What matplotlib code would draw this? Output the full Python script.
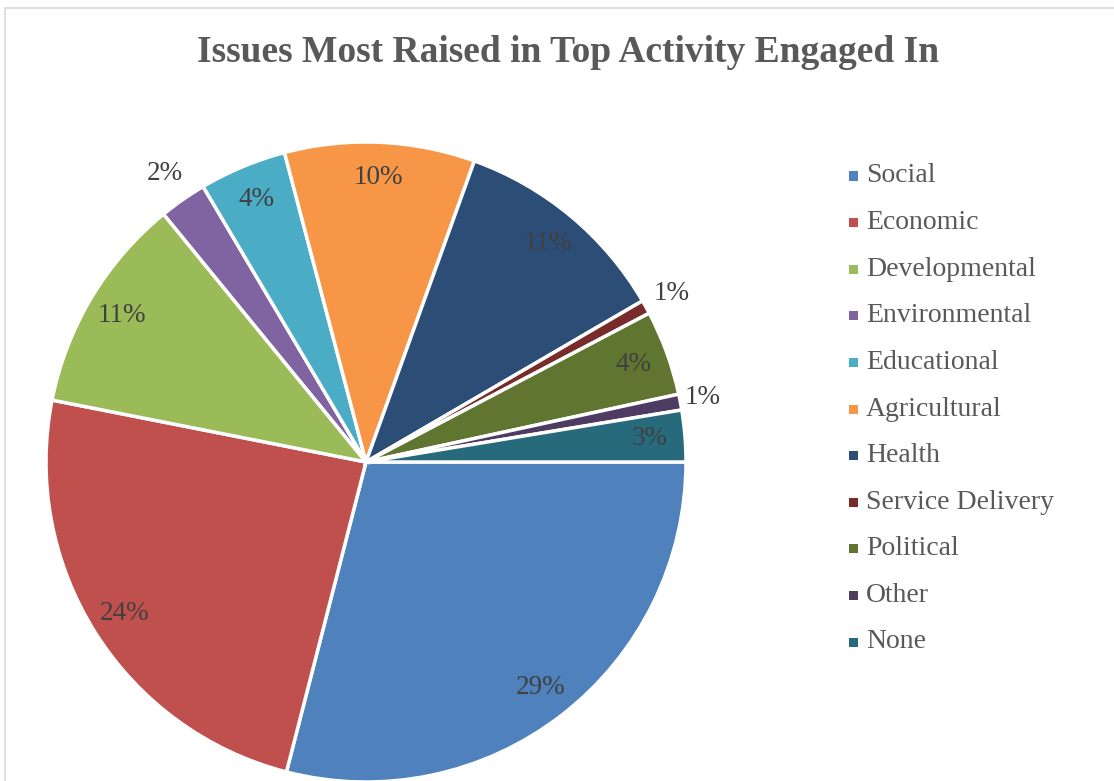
import matplotlib
matplotlib.use("Agg")
import matplotlib.pyplot as plt
from matplotlib.patches import Rectangle
import numpy as np

# share of responses per issue category (percent)
CATEGORIES = ["Social", "Economic", "Developmental", "Environmental", "Educational",
              "Agricultural", "Health", "Service Delivery", "Political", "Other", "None"]
SHARES = [29.0, 24.1, 11.0, 2.4, 4.4, 9.6, 11.1, 0.7, 4.3, 0.8, 2.6]
COLORS = ["#4F81BD", "#C0504D", "#9BBB59", "#8064A2", "#4BACC6", "#F79646",
          "#2C4D75", "#772C2A", "#5F7530", "#4D3B62", "#276A7C"]

TITLE = "Issues Most Raised in Top Activity Engaged In"
TEXT_GREY = "#404040"

plt.rcParams["font.family"] = ["Liberation Serif", "DejaVu Serif"]

W, H = 1114, 781
fig = plt.figure(figsize=(W / 100, H / 100), dpi=100)

# chart-area border (runs off the right and bottom edges)
fig.add_artist(Rectangle((5 / W, -0.05), 1.2, 1 - 8 / H + 0.05, transform=fig.transFigure,
                         fill=False, edgecolor="#D9D9D9", lw=1.2))

# pie area: centre (366, 462) px, radius 320 px
cx, cy, r = 366, 462, 320
ax = fig.add_axes([(cx - r) / W, (H - cy - r) / H, 2 * r / W, 2 * r / H])
wedges, _ = ax.pie(SHARES, colors=COLORS, startangle=0, counterclock=False,
                   wedgeprops=dict(edgecolor="white", linewidth=2.5))
ax.set_xlim(-1, 1)
ax.set_ylim(-1, 1)
ax.set_aspect("auto")
ax.axis("off")

# small slices get their labels outside the pie
outside = {3: 1.10, 7: 1.09, 9: 1.07}
for i, (w, v) in enumerate(zip(wedges, SHARES)):
    mid = np.deg2rad((w.theta1 + w.theta2) / 2)
    rr = outside.get(i, 0.89)
    ax.text(rr * np.cos(mid), rr * np.sin(mid), f"{v:.0f}%", ha="center", va="center",
            fontsize=19.5, color=TEXT_GREY, clip_on=False)

fig.text(568 / W, 1 - 52 / H, TITLE, ha="center", va="center", fontsize=27,
         fontweight="bold", color="#595959")

# legend, drawn item by item
lx, ly0, dy = 853, 176, 46.6
for i, (name, col) in enumerate(zip(CATEGORIES, COLORS)):
    y = ly0 + i * dy
    fig.add_artist(Rectangle(((lx - 4.5) / W, (H - y - 4.5) / H), 9 / W, 9 / H,
                             transform=fig.transFigure, facecolor=col, edgecolor="none"))
    fig.text((lx + 13) / W, 1 - y / H, name, ha="left", va="center",
             fontsize=20, color="#595959")

fig.savefig("out.png", dpi=100)
